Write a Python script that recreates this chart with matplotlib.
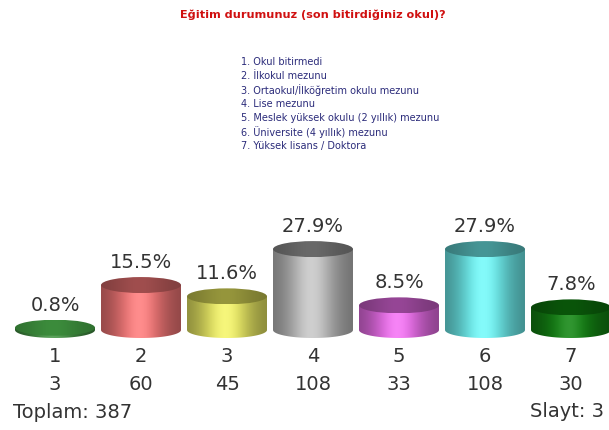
import numpy as np
import matplotlib
matplotlib.use("Agg")
import matplotlib.pyplot as plt
from matplotlib.patches import Ellipse, Polygon
from matplotlib.transforms import blended_transform_factory

# data
categories = ["1", "2", "3", "4", "5", "6", "7"]
counts = [3, 60, 45, 108, 33, 108, 30]
percents = [0.8, 15.5, 11.6, 27.9, 8.5, 27.9, 7.8]
total = 387
legend_lines = [
    "1. Okul bitirmedi",
    "2. İlkokul mezunu",
    "3. Ortaokul/İlköğretim okulu mezunu",
    "4. Lise mezunu",
    "5. Meslek yüksek okulu (2 yıllık) mezunu",
    "6. Üniversite (4 yıllık) mezunu",
    "7. Yüksek lisans / Doktora",
]
title = "Eğitim durumunuz (son bitirdiğiniz okul)?"

body_colors = [(70, 150, 70), (255, 125, 125), (245, 245, 105), (200, 200, 200),
               (245, 115, 245), (115, 250, 250), (20, 135, 20)]
top_colors = [(60, 140, 60), (160, 78, 78), (150, 150, 60), (105, 105, 105),
              (150, 70, 150), (70, 150, 150), (10, 85, 10)]

fig = plt.figure(figsize=(6.09, 4.30), dpi=100)
fig.patch.set_facecolor("white")

fig.text(0.514, 1 - 15 / 430, title, color="#d01010", fontsize=8.1,
         fontweight="bold", ha="center", va="center")
for i, line in enumerate(legend_lines):
    fig.text(241 / 609, 1 - (62 + 14 * i) / 430, line, color="#2b2b7a",
             fontsize=7.0, ha="left", va="center")

ax = fig.add_axes([0, 0.1628, 1, 0.5116])
ax.axis("off")

x = np.arange(1, len(categories) + 1)
px_per_pct = 2.9
a = 0.465                  # half width in category units
b = 8 / px_per_pct          # half ellipse height in percent units


def shade(rgb, t, depth, glow):
    # dark at both sides, lighter a bit left of the middle
    c = np.array(rgb) / 255.0
    g = np.exp(-((t - 0.48) / 0.32) ** 2)
    f = (1 - depth) + depth * g
    out = c[None, :] * f[:, None]
    out = out + (1 - out) * (glow * np.exp(-((t - 0.48) / 0.15) ** 2))[:, None]
    return np.clip(out, 0, 1)


t = np.linspace(0, 1, 200)
for xc, p, bc, tc in zip(x, percents, body_colors, top_colors):
    h = p
    th = np.linspace(np.pi, 2 * np.pi, 60)
    pts = np.column_stack([xc + a * np.cos(th), b * np.sin(th)])
    pts = np.vstack([pts, [xc + a, h], [xc - a, h]])
    body = Polygon(pts, closed=True, facecolor="none", edgecolor="none")
    ax.add_patch(body)
    img = np.ones((1, len(t), 4))
    img[0, :, :3] = shade(bc, t, 0.45, 0.12)
    im = ax.imshow(img, extent=[xc - a, xc + a, -b, h + b], aspect="auto",
                   interpolation="bilinear", zorder=2)
    im.set_clip_path(body)

    top = Ellipse((xc, h), 2 * a, 2 * b, facecolor="none", edgecolor="none")
    ax.add_patch(top)
    timg = np.ones((1, len(t), 4))
    timg[0, :, :3] = shade(tc, t, 0.2, 0.0)
    tim = ax.imshow(timg, extent=[xc - a, xc + a, h - b, h + b], aspect="auto",
                    interpolation="bilinear", zorder=3)
    tim.set_clip_path(top)

    ax.annotate(f"{p:.1f}%", (xc, h + b), xytext=(0, 6.5),
                textcoords="offset points", ha="center", va="baseline",
                fontsize=14, color="#333333")

ax.set_xlim(1 - 55 / 86, 1 + (609 - 55) / 86)
ax.set_ylim(-30 / px_per_pct, 190 / px_per_pct)

tr = blended_transform_factory(ax.transData, fig.transFigure)
for xc, cat, n in zip(x, categories, counts):
    ax.text(xc, 1 - 362 / 430, cat, transform=tr, ha="center", va="baseline",
            fontsize=14, color="#333333")
    ax.text(xc, 1 - 390 / 430, str(n), transform=tr, ha="center",
            va="baseline", fontsize=14, color="#333333")

fig.text(13 / 609, 1 - 418 / 430, f"Toplam: {total}", ha="left",
         va="baseline", fontsize=14, color="#333333")
fig.text(604 / 609, 1 - 417 / 430, "Slayt: 3", ha="right", va="baseline",
         fontsize=14, color="#333333")

fig.savefig("out.png", dpi=100)
